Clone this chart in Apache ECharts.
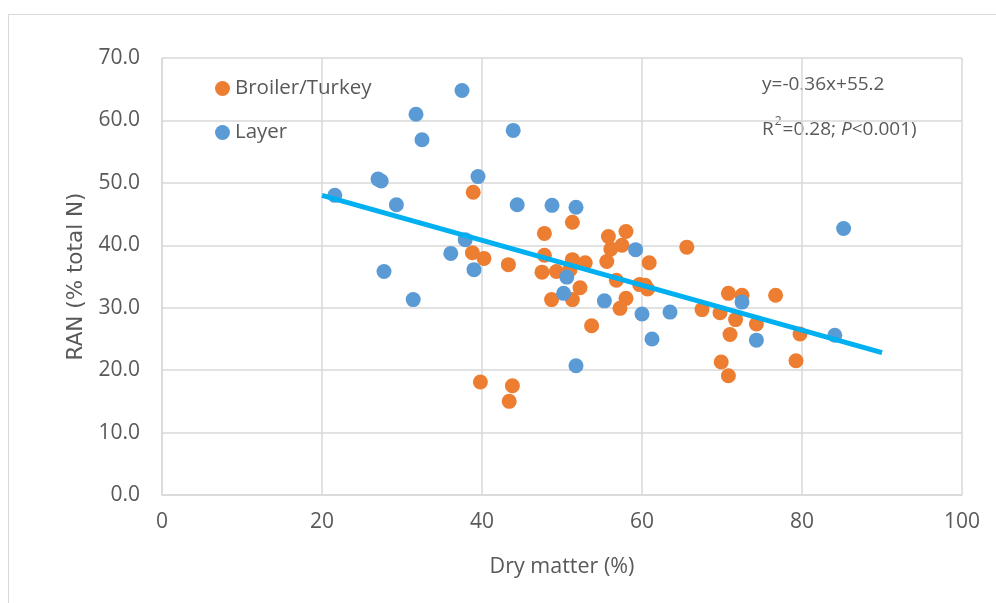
<!DOCTYPE html>
<html><head><meta charset="utf-8">
<script src="https://cdn.jsdelivr.net/npm/echarts@6/dist/echarts.min.js"></script>
<style>html,body{margin:0;padding:0;background:#fff}#c{width:996px;height:603px}</style>
</head><body><div id="c"></div>
<script>
const xTicks = [0, 20, 40, 60, 80, 100];
const yTicks = ['0.0','10.0','20.0','30.0','40.0','50.0','60.0','70.0'];
const broilerX = [38.9,38.8,40.25,43.3,39.8,43.8,43.4,51.3,47.8,55.8,58.0,56.1,57.5,65.6,47.8,51.3,52.9,55.6,60.9,47.5,49.3,51.0,56.8,59.7,60.7,60.4,52.25,48.7,51.3,58.0,57.25,53.7,70.8,72.5,76.7,67.5,69.75,71.7,74.3,71.0,79.75,69.9,70.8,79.25];
const broilerY = [48.5,38.8,37.9,36.9,18.1,17.5,15.0,43.7,41.9,41.4,42.2,39.4,40.0,39.7,38.4,37.7,37.2,37.4,37.2,35.7,35.8,36.1,34.4,33.7,33.0,33.6,33.2,31.3,31.3,31.5,29.9,27.1,32.3,32.0,32.0,29.7,29.2,28.1,27.4,25.7,25.8,21.3,19.1,21.5];
const layerX = [21.6,27.0,27.4,29.3,31.75,32.5,37.5,43.9,39.5,37.9,36.1,39.0,27.75,31.4,44.4,48.75,51.75,50.6,50.2,51.75,59.2,55.3,60.0,63.5,61.25,72.5,74.3,84.1,85.2];
const layerY = [48.0,50.6,50.3,46.5,61.0,56.9,64.8,58.4,51.0,40.9,38.7,36.1,35.8,31.3,46.5,46.4,46.1,34.9,32.3,20.7,39.3,31.1,29.0,29.3,25.0,30.9,24.8,25.6,42.7];
const trendX = [20, 90];
const slope = -0.36, intercept = 55.2;

const font = 'Open Sans';
const grey = '#595959';
const chart = echarts.init(document.getElementById('c'), null, {renderer:'canvas'});
const pairs = (xs, ys) => xs.map((x,i)=>[x, ys[i]]);
chart.setOption({
  animation:false,
  textStyle:{fontFamily:font},
  graphic:[
    {type:'rect', shape:{x:8.5,y:14.5,width:995,height:600}, style:{fill:'none', stroke:'#d9d9d9', lineWidth:1}, z:-1},
    {type:'text', left:762, top:75, style:{text:'y=-0.36x+55.2', fontFamily:font, fontSize:19, fill:grey}},
    {type:'text', left:762, top:116, style:{
      text:'R{sup|2}=0.28; {i|P}<0.001)',
      fontFamily:font, fontSize:19, fill:grey,
      rich:{sup:{fontSize:12, fill:grey, fontFamily:font, verticalAlign:'top', padding:[0,1,16,1]}, i:{fontStyle:'italic', fontSize:19, fill:grey, fontFamily:font}}
    }}
  ],
  legend:{
    left:210, top:73, orient:'vertical', itemGap:23,
    icon:'circle', itemWidth:15, itemHeight:15,
    textStyle:{fontFamily:font, fontSize:20.5, color:grey},
    data:['Broiler/Turkey','Layer']
  },
  grid:{left:162, right:34, top:58, bottom:108, containLabel:false},
  xAxis:{
    type:'value', min:0, max:100, interval:20,
    name:'Dry matter (%)', nameLocation:'middle', nameGap:61,
    nameTextStyle:{fontFamily:font, fontSize:21.5, color:grey},
    axisLine:{show:true, lineStyle:{color:'#d9d9d9', width:1.5}},
    axisTick:{show:false},
    axisLabel:{color:grey, fontSize:21, fontFamily:font, margin:17},
    splitLine:{show:true, lineStyle:{color:'#d9d9d9', width:1.5}}
  },
  yAxis:{
    type:'value', min:0, max:70, interval:10,
    name:'RAN (% total N)', nameLocation:'middle', nameGap:75, nameRotate:90,
    nameTextStyle:{fontFamily:'DejaVu Sans', fontSize:21.5, color:grey},
    axisLine:{show:true, lineStyle:{color:'#d9d9d9', width:1.5}},
    axisTick:{show:false},
    axisLabel:{color:grey, fontSize:21, fontFamily:font, margin:22, formatter:(v)=>yTicks[Math.round(v/10)]},
    splitLine:{show:true, lineStyle:{color:'#d9d9d9', width:1.5}}
  },
  series:[
    {name:'Trend', type:'line', data:trendX.map(x=>[x, slope*x+intercept]), symbol:'none', lineStyle:{color:'#00B0F0', width:5}, z:3, silent:true},
    {name:'Broiler/Turkey', type:'scatter', data:pairs(broilerX, broilerY), symbolSize:15, itemStyle:{color:'#ED7D31', opacity:1}, z:2},
    {name:'Layer', type:'scatter', data:pairs(layerX, layerY), symbolSize:15, itemStyle:{color:'#5B9BD5', opacity:1}, z:2}
  ]
});
</script></body></html>
